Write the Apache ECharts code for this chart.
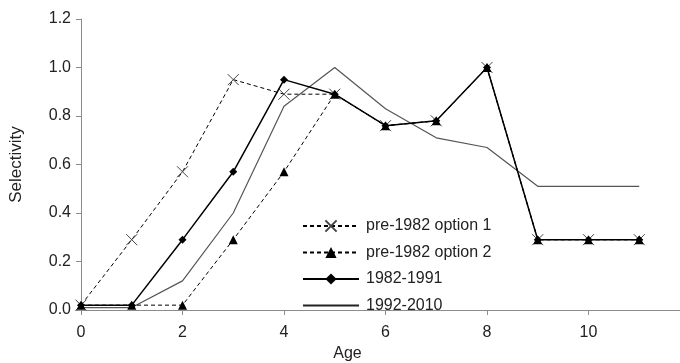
<!DOCTYPE html>
<html>
<head>
<meta charset="utf-8">
<script src="https://cdn.jsdelivr.net/npm/echarts@6/dist/echarts.min.js"></script>
<style>
  html, body { margin: 0; padding: 0; background: #fff; }
  #chart { width: 680px; height: 363px; }
</style>
</head>
<body>
<div id="chart"></div>
<script>
// ages 0..11
var ages = [0, 1, 2, 3, 4, 5, 6, 7, 8, 9, 10, 11];
var pre1982opt1 = [0.02, 0.29, 0.57, 0.95, 0.89, 0.89, 0.76, 0.78, 1.0, 0.29, 0.29, 0.29];
var pre1982opt2 = [0.02, 0.02, 0.02, 0.29, 0.57, 0.89, 0.76, 0.78, 1.0, 0.29, 0.29, 0.29];
var s1982_1991 = [0.02, 0.02, 0.29, 0.57, 0.95, 0.89, 0.76, 0.78, 1.0, 0.29, 0.29, 0.29];
var s1992_2010 = [0.01, 0.01, 0.12, 0.40, 0.84, 1.0, 0.83, 0.71, 0.67, 0.51, 0.51, 0.51];
var seriesNames = ['pre-1982 option 1', 'pre-1982 option 2', '1982-1991', '1992-2010'];

function pairs(vals) {
    var out = [];
    for (var i = 0; i < ages.length; i++) {
        out.push([ages[i], vals[i]]);
    }
    return out;
}

var font = 'Liberation Sans';
var crossIcon = 'path://M0,0 L10,10 M10,0 L0,10';

var myChart = echarts.init(document.getElementById('chart'));
var option = {
    animation: false,
    // x axis runs past the right edge (12 is cut off like the original)
    grid: { left: 81, width: 609, top: 19, bottom: 53, outerBoundsMode: 'none', containLabel: false },
    legend: {
        data: [
            seriesNames[0],
            seriesNames[1],
            seriesNames[2],
            // plain line, no marker
            { name: seriesNames[3], itemStyle: { opacity: 0 }, lineStyle: { color: '#222' } }
        ],
        orient: 'vertical',
        left: 297,
        top: 213,
        itemWidth: 56,
        itemHeight: 14,
        itemGap: 10.5,
        textStyle: { fontFamily: font, fontSize: 16, color: '#222', padding: [0, 0, 0, 2] }
    },
    xAxis: {
        type: 'value',
        min: 0,
        max: 12,
        interval: 2,
        name: 'Age',
        nameLocation: 'middle',
        nameGap: 31,
        nameTextStyle: { fontFamily: font, fontSize: 16, color: '#222', padding: [0, 76, 0, 0] },
        axisLine: { lineStyle: { color: '#8c8c8c' } },
        axisTick: { show: true, length: 5, lineStyle: { color: '#8c8c8c' } },
        axisLabel: { fontFamily: font, fontSize: 16, color: '#222', margin: 15 },
        splitLine: { show: false }
    },
    yAxis: {
        type: 'value',
        min: 0,
        max: 1.2,
        interval: 0.2,
        name: 'Selectivity',
        nameLocation: 'middle',
        nameGap: 56,
        nameTextStyle: { fontFamily: font, fontSize: 17, color: '#222' },
        axisLine: { show: true, lineStyle: { color: '#8c8c8c' } },
        axisTick: { show: true, length: 5, lineStyle: { color: '#8c8c8c' } },
        axisLabel: {
            fontFamily: font, fontSize: 16, color: '#222', margin: 10,
            formatter: function (v) { return v.toFixed(1); }
        },
        splitLine: { show: false }
    },
    series: [
        {
            name: '1992-2010',
            type: 'line',
            data: pairs(s1992_2010),
            symbol: 'none',
            lineStyle: { color: '#555', width: 1.2 },
            itemStyle: { color: '#555' },
            z: 1
        },
        {
            name: 'pre-1982 option 1',
            type: 'line',
            data: pairs(pre1982opt1),
            symbol: crossIcon,
            symbolSize: 11,
            lineStyle: { color: '#000', width: 1, type: [4, 3] },
            itemStyle: { color: '#000', borderColor: '#444', borderWidth: 1 },
            z: 2
        },
        {
            name: 'pre-1982 option 2',
            type: 'line',
            data: pairs(pre1982opt2),
            symbol: 'triangle',
            symbolSize: 9,
            lineStyle: { color: '#000', width: 1, type: [4, 3] },
            itemStyle: { color: '#000' },
            z: 3
        },
        {
            name: '1982-1991',
            type: 'line',
            data: pairs(s1982_1991),
            symbol: 'diamond',
            symbolSize: 8,
            lineStyle: { color: '#000', width: 1.5 },
            itemStyle: { color: '#000' },
            z: 4
        }
    ]
};
myChart.setOption(option);
</script>
</body>
</html>
